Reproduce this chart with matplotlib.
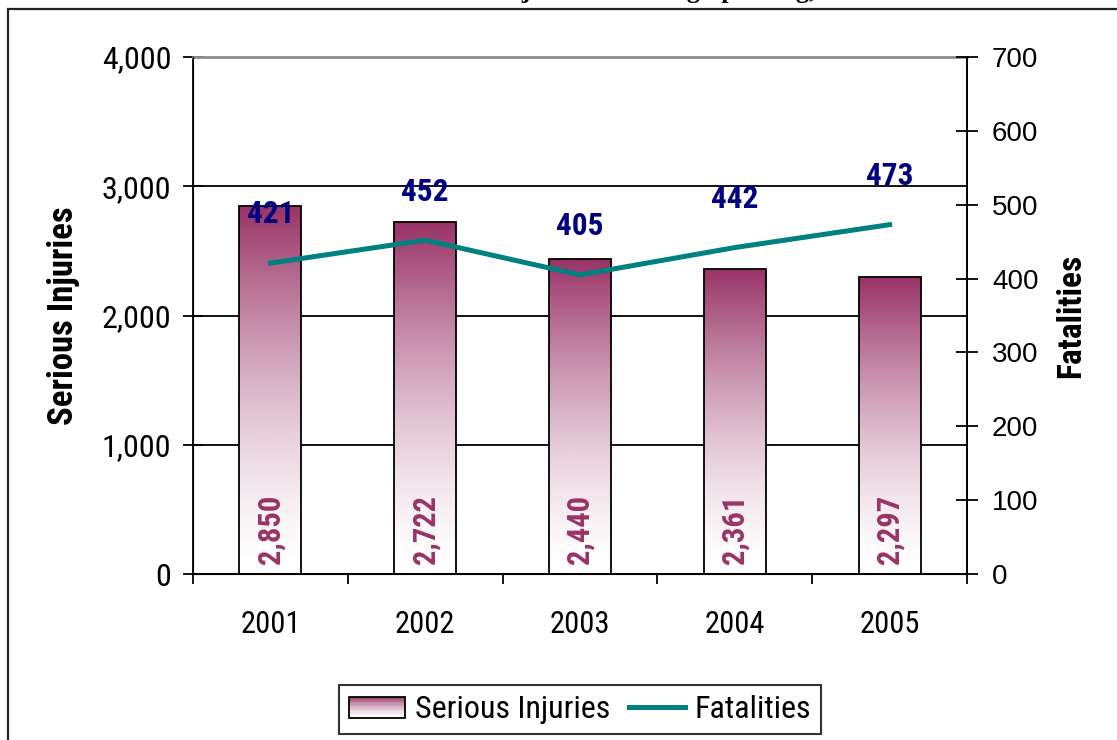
import numpy as np
import matplotlib as mpl
mpl.use('Agg')
import matplotlib.pyplot as plt
import matplotlib.font_manager as fm
from matplotlib.patches import Rectangle
from matplotlib.colors import LinearSegmentedColormap
from matplotlib.legend_handler import HandlerBase
from matplotlib.ticker import FuncFormatter

# Data
years = ['2001', '2002', '2003', '2004', '2005']
serious_injuries = [2850, 2722, 2440, 2361, 2297]
fatalities = [421, 452, 405, 442, 473]

# pick a narrow Arial-like face if one is there, otherwise Liberation Sans
names = {f.name for f in fm.fontManager.ttflist}
narrow = next((n for n in ['Liberation Sans Narrow', 'Arial Narrow', 'Roboto Condensed']
               if n in names), 'Liberation Sans')
plum = '#993366'
teal = '#008080'
navy = '#000080'
grad_cmap = LinearSegmentedColormap.from_list('plum', ['#ffffff', plum])

fig = plt.figure(figsize=(11.17, 7.40), dpi=100, facecolor='white')
ax = fig.add_axes([193/1117, 1-574/740, 774/1117, 517/740])
ax2 = ax.twinx()

# Outer frame + title (cut off at the top like the original)
fig.patches.append(Rectangle((8/1117, -0.1), 1.2, 1-9/740+0.1, transform=fig.transFigure,
                             fill=False, edgecolor='#222222', linewidth=1.6))
fig.text(0.53, 1+2/740, 'Fatalities and Serious Injuries Involving Speeding, 2001-2005',
         ha='center', va='baseline', fontsize=19, fontweight='bold', family='Liberation Serif')

# Bars with vertical gradient
x = np.arange(len(years))
bars = ax.bar(x, serious_injuries, width=0.4, facecolor='none', edgecolor='black',
              linewidth=1.3, zorder=3)
grad = np.linspace(0, 1, 256).reshape(-1, 1) ** 1.5
for b in bars:
    im = ax.imshow(grad, extent=[b.get_x(), b.get_x()+b.get_width(), 0, b.get_height()],
                   origin='lower', aspect='auto', cmap=grad_cmap, vmin=0, vmax=1, zorder=2)
    im.set_clip_path(b)
for xi, v in zip(x, serious_injuries):
    ax.annotate(f'{v:,}', (xi, 0), xytext=(0, 7), textcoords='offset points', rotation=90,
                ha='center', va='bottom', fontsize=22, fontweight='bold', color=plum,
                family=narrow, zorder=5)

ax.set_xlim(-0.5, 4.5)
ax.set_ylim(0, 4000)
ax.set_yticks(range(0, 4001, 1000))
ax.yaxis.set_major_formatter(FuncFormatter(lambda v, p: f'{int(v):,}'))
ax.set_xticks(np.arange(-0.5, 5, 1))
ax.set_xticklabels([])
ax.set_xticks(x, minor=True)
ax.set_xticklabels(years, minor=True)
ax.tick_params(axis='x', which='major', direction='out', length=7, width=1.3)
ax.tick_params(axis='x', which='minor', length=0, pad=26, labelsize=22)
ax.tick_params(axis='y', direction='inout', length=15, width=1.3, pad=8, labelsize=23)
for lab in ax.get_xticklabels(minor=True) + ax.get_yticklabels():
    lab.set_family(narrow)
ax.grid(axis='y', color='black', linewidth=1.3)
ax.set_axisbelow(True)
for s in ['left', 'right', 'bottom']:
    ax.spines[s].set_linewidth(1.3)
ax.spines['top'].set_color('#8c8c8c')
ax.spines['top'].set_linewidth(2)
ax.set_ylabel('Serious Injuries', fontsize=25, fontweight='bold', family=narrow)
ax.yaxis.set_label_coords(-0.146, 0.5)

# Fatalities line on right axis
ax2.plot(x, fatalities, color=teal, linewidth=3.6, zorder=4)
for xi, v in zip(x, fatalities):
    ax2.annotate(str(v), (xi, v), xytext=(0, 35), textcoords='offset points',
                 ha='center', va='center', fontsize=22.5, fontweight='bold', color=navy,
                 family=narrow)
ax2.set_ylim(0, 700)
ax2.set_yticks(range(0, 701, 100))
ax2.tick_params(axis='y', direction='inout', length=16, width=1.3, pad=10, labelsize=20)
for lab in ax2.get_yticklabels():
    lab.set_family('Liberation Sans')
ax2.spines['right'].set_linewidth(1.3)
ax2.spines['top'].set_visible(False)
ax2.set_ylabel('Fatalities', fontsize=24, fontweight='bold', family=narrow, labelpad=12)


# Legend with gradient swatch
class GradientHandler(HandlerBase):
    def create_artists(self, legend, orig_handle, xdescent, ydescent, width, height, fontsize, trans):
        n = 16
        arts = []
        h = height * 0.95
        y0 = -ydescent + 0.0 * height
        for i in range(n):
            arts.append(Rectangle((-xdescent, y0 + i*h/n), width, h/n,
                                  facecolor=grad_cmap(((i+0.5)/n) ** 1.5),
                                  edgecolor='none', transform=trans))
        arts.append(Rectangle((-xdescent, y0), width, h, facecolor='none', edgecolor='black',
                              linewidth=1.3, transform=trans))
        return arts


proxy = Rectangle((0, 0), 1, 1)
line_h, = ax2.plot([], [], color=teal, linewidth=3.6)
leg = fig.legend([proxy, line_h], ['Serious Injuries', 'Fatalities'],
                 handler_map={Rectangle: GradientHandler()}, loc='center',
                 bbox_to_anchor=(580/1117, 1-709.5/740), ncol=2, frameon=True, fancybox=False,
                 prop={'family': narrow, 'size': 23}, handlelength=1.75, handletextpad=0.3,
                 columnspacing=0.6, borderpad=0.3, borderaxespad=0)
leg.get_frame().set_edgecolor('black')
leg.get_frame().set_linewidth(1.5)

fig.savefig('out.png', dpi=100, facecolor='white')
